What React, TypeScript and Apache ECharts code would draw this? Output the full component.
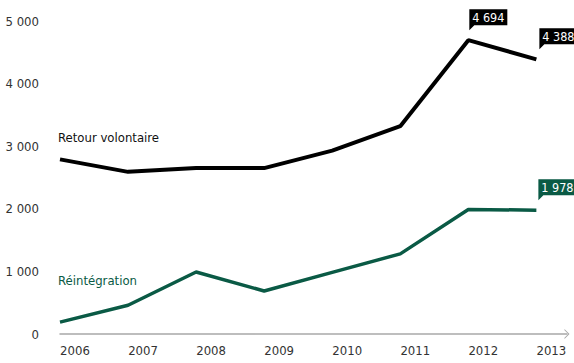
import React, { useEffect, useRef } from "react";
import * as echarts from "echarts";

const years = [2006, 2007, 2008, 2009, 2010, 2011, 2012, 2013];
const retourVolontaire = [2790, 2590, 2650, 2650, 2930, 3320, 4694, 4388];
const reintegration = [190, 460, 990, 687, 985, 1280, 1990, 1978];
const yTicks = [0, 1000, 2000, 3000, 4000, 5000];

const FONT = "'Liberation Sans Narrow', 'DejaVu Sans Condensed', sans-serif";
const GREEN = "#0a5a45";
const BUBBLE = "path://M0 0 L38 0 L38 16 L5 16 L0 21 Z";

const fmt = (v: number) => String(v).replace(/\B(?=(\d{3})+(?!\d))/g, " ");

export default function App() {
  const ref = useRef<HTMLDivElement>(null);
  useEffect(() => {
    if (!ref.current) return;
    const chart = echarts.init(ref.current, null, { renderer: "svg" });
    const pts = (vals: number[]) => years.map((y, i) => [y, vals[i]]);
    const bubble = (year: number, v: number, color: string, dx: number) => ({
      coord: [year, v],
      value: v,
      symbol: BUBBLE,
      symbolSize: [38, 21],
      symbolOffset: [dx, -20.5],
      itemStyle: { color },
    });
    const bubbleLabel = {
      show: true,
      position: "inside",
      offset: [0, -2.5],
      color: "#fff",
      fontFamily: FONT,
      fontSize: 12.5,
      fontWeight: "normal",
      formatter: (p: any) => fmt(p.value),
    };
    chart.setOption({
      animation: false,
      grid: { left: 60, right: 7, top: 21, bottom: 29 },
      xAxis: {
        type: "value",
        min: years[0],
        max: years[years.length - 1] + 0.45,
        interval: 1,
        splitLine: { show: false },
        axisTick: { show: false },
        axisLine: {
          show: true,
          lineStyle: { color: "#a8a8a8", width: 1.5 },
          symbol: ["none", "path://M0 5 L5 0 L10 5 L8.8 5 L5 1.3 L1.2 5 Z"],
          symbolSize: [10, 5],
        },
        axisLabel: {
          showMaxLabel: false,
          formatter: (v: number) => (Number.isInteger(v) ? String(v) : ""),
          color: "#333",
          fontFamily: FONT,
          fontSize: 13,
          margin: 10,
          padding: [0, 0, 0, 30],
        },
      },
      yAxis: {
        type: "value",
        min: yTicks[0],
        max: yTicks[yTicks.length - 1],
        interval: 1000,
        splitLine: { show: false },
        axisTick: { show: false },
        axisLine: { show: false },
        axisLabel: {
          formatter: (v: number) => fmt(v),
          color: "#333",
          fontFamily: FONT,
          fontSize: 13,
          margin: 21,
          align: "right",
          padding: [0, 0, 5, 0],
        },
      },
      graphic: [
        {
          type: "text",
          left: 58,
          top: 131,
          style: { text: "Retour volontaire", fill: "#111", font: `13px ${FONT}` },
        },
        {
          type: "text",
          left: 58,
          top: 274,
          style: { text: "Réintégration", fill: GREEN, font: `13px ${FONT}` },
        },
      ],
      series: [
        {
          name: "Retour volontaire",
          type: "line",
          data: pts(retourVolontaire),
          symbol: "none",
          lineStyle: { color: "#000", width: 4 },
          markPoint: {
            label: bubbleLabel,
            data: [
              bubble(years[6], retourVolontaire[6], "#000", 20),
              bubble(years[7], retourVolontaire[7], "#000", 22),
            ],
          },
        },
        {
          name: "Réintégration",
          type: "line",
          data: pts(reintegration),
          symbol: "none",
          lineStyle: { color: GREEN, width: 3.5 },
          markPoint: {
            label: bubbleLabel,
            data: [bubble(years[7], reintegration[7], GREEN, 21)],
          },
        },
      ],
    });
    return () => chart.dispose();
  }, []);
  return (
    <div
      ref={ref}
      style={{ position: "fixed", left: 0, top: 0, width: 574, height: 363, background: "#fff" }}
    />
  );
}
